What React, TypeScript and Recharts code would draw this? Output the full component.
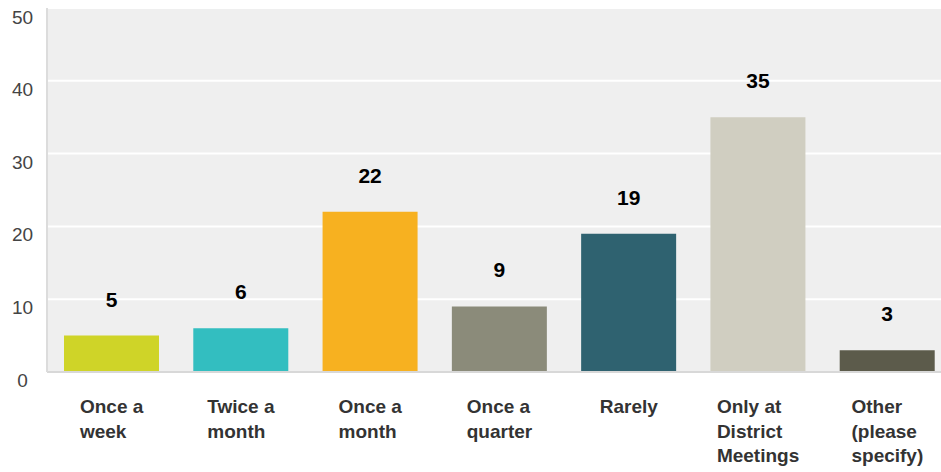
import { BarChart, Bar, XAxis, YAxis, CartesianGrid, Cell, LabelList } from 'recharts';

const categories = ['Once a week', 'Twice a month', 'Once a month', 'Once a quarter', 'Rarely', 'Only at District Meetings', 'Other (please specify)'];
const tickLines = [['Once a', 'week'], ['Twice a', 'month'], ['Once a', 'month'], ['Once a', 'quarter'], ['Rarely'], ['Only at', 'District', 'Meetings'], ['Other', '(please', 'specify)']];
const values = [5, 6, 22, 9, 19, 35, 3];
const colors = ['#cfd428', '#33bec0', '#f7b120', '#8b8b7a', '#2f6270', '#d0cec1', '#5c5b4b'];
const yTicks = [0, 10, 20, 30, 40, 50];

const data = categories.map((name, i) => ({ name, value: values[i] }));

const FONT = '"Liberation Sans", Arial, sans-serif';
const LABEL_SIZE = 19;
const VALUE_SIZE = 21;

let ctx: CanvasRenderingContext2D | null = null;
const measure = (s: string) => {
    if (!ctx) {
        ctx = document.createElement('canvas').getContext('2d');
        if (ctx) ctx.font = `bold ${LABEL_SIZE}px "Liberation Sans"`;
    }
    return ctx ? ctx.measureText(s).width : s.length * 10;
};

const XTick = (props: any) => {
    const { x, y, index } = props;
    const lines = tickLines[index] || [];
    const w = Math.max(...lines.map(measure));
    const left = x - w / 2;
    return (
        <g>
            {lines.map((l, i) => (
                <text key={i} x={left} y={y + 33 + i * 24.5} fill="#333" fontSize={LABEL_SIZE} fontWeight="bold" fontFamily={FONT} textAnchor="start">
                    {l}
                </text>
            ))}
        </g>
    );
};

const YTick = (props: any) => {
    const { y, payload } = props;
    return (
        <text x={22.5} y={y + 15} fill="#444" fontSize={LABEL_SIZE} fontFamily={FONT} textAnchor="middle">
            {payload.value}
        </text>
    );
};

const ValueLabel = (props: any) => {
    const { x, y, width, value } = props;
    return (
        <text x={x + width / 2} y={y - 29} fill="#000" fontSize={VALUE_SIZE} fontWeight="bold" fontFamily={FONT} textAnchor="middle">
            {value}
        </text>
    );
};

const App = () => {
    return (
        <div style={{ width: 941, height: 472, overflow: 'hidden', position: 'absolute', left: 0, top: 0, background: '#fff' }}>
            <BarChart width={952} height={472} data={data} margin={{ top: 8, right: 0, bottom: 0, left: 0 }} barSize={95}>
                <CartesianGrid fill="#efefef" stroke="#ffffff" strokeWidth={2} vertical={false} />
                <XAxis
                    dataKey="name"
                    tick={<XTick />}
                    tickLine={false}
                    axisLine={{ stroke: '#d8d8d8', strokeWidth: 2 }}
                    interval={0}
                    height={100}
                />
                <YAxis
                    domain={[0, 50]}
                    ticks={yTicks}
                    tick={<YTick />}
                    tickLine={false}
                    axisLine={{ stroke: '#dcdcdc', strokeWidth: 2 }}
                    width={47}
                />
                <Bar dataKey="value" isAnimationActive={false}>
                    {data.map((d, i) => (
                        <Cell key={d.name} fill={colors[i]} />
                    ))}
                    <LabelList dataKey="value" content={<ValueLabel />} />
                </Bar>
            </BarChart>
        </div>
    );
};

export default App;
